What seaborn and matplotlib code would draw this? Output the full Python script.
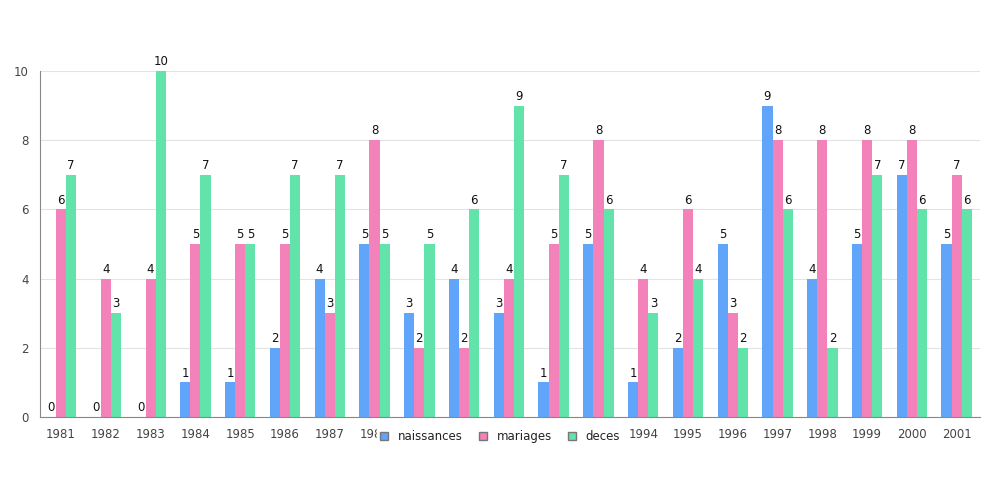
import pandas as pd
import seaborn as sns
import matplotlib.pyplot as plt

years = [str(y) for y in range(1981, 2002)]
naissances = [0, 0, 0, 1, 1, 2, 4, 5, 3, 4, 3, 1, 5, 1, 2, 5, 9, 4, 5, 7, 5]
mariages = [6, 4, 4, 5, 5, 5, 3, 8, 2, 2, 4, 5, 8, 4, 6, 3, 8, 8, 8, 8, 7]
deces = [7, 3, 10, 7, 5, 7, 7, 5, 5, 6, 9, 7, 6, 3, 4, 2, 6, 2, 7, 6, 6]

series = ["naissances", "mariages", "deces"]
colors = ["#60a5fa", "#f282b9", "#62e3a9"]

df = pd.DataFrame({"annee": years, "naissances": naissances,
                   "mariages": mariages, "deces": deces})
long = df.melt(id_vars="annee", value_vars=series, var_name="serie", value_name="valeur")

sns.set_style("white")
plt.rcParams["font.family"] = ["DejaVu Sans"]

fig = plt.figure(figsize=(10, 5), dpi=100)
ax = fig.add_axes([0.04, 0.166, 0.94, 0.692])

sns.barplot(data=long, x="annee", y="valeur", hue="serie", hue_order=series,
            palette=colors, width=0.68, saturation=1, linewidth=0,
            ax=ax, legend=False)

for cont in ax.containers:
    ax.bar_label(cont, fmt="%d", padding=2, fontsize=8.5, color="#111111")

ax.set_ylim(0, 10)
ax.set_xlim(-0.47, 20.52)
ax.set_yticks(range(0, 11, 2))
ax.set_yticks(range(1, 10, 2), minor=True)
ax.yaxis.grid(True, which="major", color="#e3e3e3", linewidth=0.8)
ax.set_axisbelow(True)
ax.tick_params(axis="y", which="both", length=4, color="#888888", labelsize=8.5,
               labelcolor="#444444", pad=4)
ax.tick_params(axis="x", length=0, labelsize=8.5, labelcolor="#444444", pad=8)
for side in ["top", "right"]:
    ax.spines[side].set_visible(False)
for side in ["left", "bottom"]:
    ax.spines[side].set_color("#888888")
ax.set_xlabel("")
ax.set_ylabel("")

handles = [plt.Rectangle((0, 0), 1, 1, facecolor=c, edgecolor="#777777", linewidth=1)
           for c in colors]
leg = fig.legend(handles, series, loc="center", bbox_to_anchor=(0.5, 0.127), ncol=3,
                 frameon=True, fontsize=8.5, handlelength=0.7, handleheight=0.7,
                 columnspacing=1.35, handletextpad=0.8, borderpad=0.3)
leg.get_frame().set_edgecolor("white")
leg.get_frame().set_facecolor("white")
leg.get_frame().set_alpha(1)
for t in leg.get_texts():
    t.set_color("#222222")

fig.savefig("out.png", dpi=100)
